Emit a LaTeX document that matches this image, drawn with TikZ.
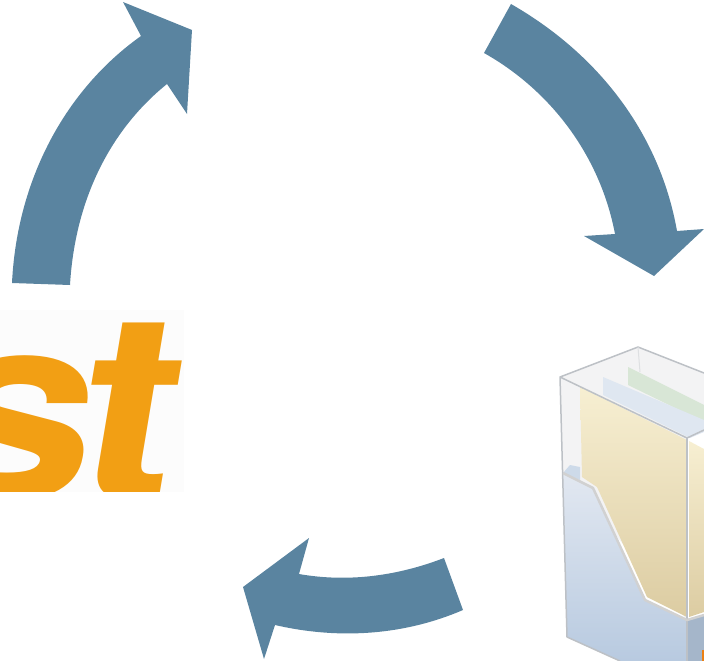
\documentclass[tikz,border=0pt]{standalone}
\usepackage{fontspec}
\setmainfont{TeX Gyre Heros}
\newfontfamily\logofont[FakeSlant=0.145]{TeX Gyre Heros Bold}
\definecolor{arrowblue}{HTML}{5A84A0}
\definecolor{logoorange}{HTML}{F29F14}
\definecolor{trayline}{HTML}{BDC1C6}
\definecolor{frontlight}{HTML}{E2E8F1}
\definecolor{frontdark}{HTML}{B8CAE0}
\definecolor{yellowlight}{HTML}{F7EFD2}
\definecolor{yellowdark}{HTML}{DCCCA2}
\definecolor{bluefolder}{HTML}{DFE7F1}
\definecolor{greenfolder}{HTML}{D8E6D6}
\definecolor{innerwall}{HTML}{F3F3F4}
\tikzset{
  cyclearrow/.style={fill=arrowblue,draw=none},
  trayedge/.style={draw=trayline,line width=1.5pt,line join=round},
}
\begin{document}
\begin{tikzpicture}[x=1pt,y=-1pt]
\useasboundingbox (0,0) rectangle (704,661);
\clip (0,0) rectangle (704,661);
% Logo fragment
\fill[white!99!black] (0,310) rectangle (184,492);
\begin{scope}
\clip (0,310) rectangle (184,491);
\node[anchor=base east,inner sep=0pt,text=logoorange,font=\fontsize{262}{262}\logofont] (logo) at (169,499) {\scalebox{1.15}[1]{s\kern-16pt t}};
\end{scope}
% Arrows
\fill[cyclearrow] (12,283) .. controls (17,180) and (65,90) .. (141,36) -- (123,2) -- (192,30) -- (187,114) -- (167,84)
  .. controls (110,130) and (75,200) .. (70,285) -- cycle;
\fill[cyclearrow] (511,4) .. controls (600,55) and (660,135) .. (677,231) -- (704,229) -- (654,276) -- (584,236) -- (615,234)
  .. controls (600,155) and (550,90) .. (484,53) -- cycle;
\fill[cyclearrow] (444,558) .. controls (400,575) and (350,583) .. (299,574) -- (309,538) -- (243,587) -- (264,659) -- (275,625)
  .. controls (340,640) and (405,635) .. (463,610) -- cycle;
% Tray: back and interior
\fill[innerwall] (560,377) -- (638,347) -- (704,373) -- (704,430) -- (687,438) -- cycle;
\fill[innerwall] (560,377) -- (687,438) -- (687,620) -- (563,473) -- cycle;
% Green folder
\fill[greenfolder] (628,367) -- (704,405) -- (704,422) -- (628,385) -- cycle;
% Blue folder
\fill[bluefolder] (603,377) -- (704,420) -- (704,432) -- (690,438) -- (603,395) -- cycle;
% Yellow folder
\shade[top color=yellowlight,bottom color=yellowdark] (580,387) -- (687,440) -- (687,617) -- (647,597) -- (597,487) -- (582,477) -- cycle;
\shade[top color=yellowlight,bottom color=yellowdark] (689,441) -- (704,449) -- (704,612) -- (689,617) -- cycle;
% Tray front
\fill[frontdark!70!white] (563,473) -- (570,465) -- (580,467) -- (580,480) -- cycle;
\shade[top color=frontlight,bottom color=frontdark] (563,473) -- (593,488) -- (645,600) -- (687,620) -- (687,661) -- (620,661) -- (567,637) -- cycle;
\fill[frontdark!90!black] (687,620) -- (704,615) -- (704,661) -- (687,661) -- cycle;
\fill[orange!70!brown] (702,650) rectangle (704,661);
% Tray edges
\draw[trayedge] (560,377) -- (638,347) -- (704,373);
\draw[trayedge,draw=trayline!50!white,line width=1pt] (638,347) -- (640,372);
\draw[trayedge] (620,661) -- (567,637) -- (560,377) -- (687,438) -- (704,430);
\draw[trayedge] (687,438) -- (687,661);
\draw[trayedge,draw=white!82!black,line width=2.5pt] (563,473) -- (593,488) -- (645,600) -- (687,620) -- (704,615);
\end{tikzpicture}
\end{document}
